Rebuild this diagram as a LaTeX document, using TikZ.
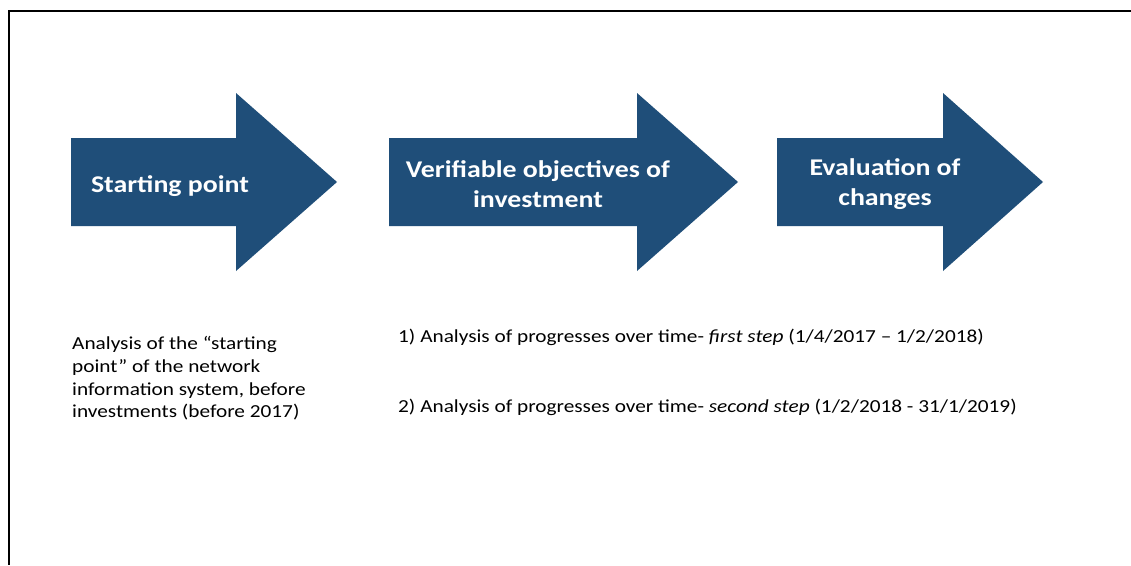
\documentclass[tikz,border=0pt]{standalone}
\usepackage{fontspec}
\setmainfont{Carlito}[FakeStretch=1.16]
\definecolor{arrowblue}{RGB}{31,78,121}
\tikzset{
  bigarrow/.style={fill=arrowblue, draw=none},
  arrowlabel/.style={text=white, font=\fontsize{24}{30}\selectfont\bfseries, align=center, inner sep=0pt},
  note/.style={text=black, font=\fontsize{18.35}{22.8}\selectfont, align=left, inner sep=0pt, anchor=north west},
}
\begin{document}
\begin{tikzpicture}[x=1pt,y=-1pt]
\useasboundingbox (0,0) rectangle (1131,565);
\fill[white] (0,0) rectangle (1131,565);
\coordinate (tl) at (9,11);
\coordinate (tr) at (1131,11);
\coordinate (bl) at (9,565);
\draw[line width=2pt] (tr) -- (tl) -- (bl);

\fill[bigarrow] (71,138) -- (236,138) -- (236,93) -- (337,182) -- (236,271) -- (236,226) -- (71,226) -- cycle;
\fill[bigarrow] (389,138) -- (637,138) -- (637,93) -- (738,182) -- (637,271) -- (637,226) -- (389,226) -- cycle;
\fill[bigarrow] (777,138) -- (943,138) -- (943,93) -- (1043,182) -- (943,271) -- (943,226) -- (777,226) -- cycle;

\node[arrowlabel] (a1) at (170,186) {Starting point};
\node[arrowlabel] (a2) at (538,184) {Verifiable objectives of\\investment};
\node[arrowlabel] (a3) at (885,184) {Evaluation of\\changes};

\node[note] (n1) at (72,336) {Analysis of the “starting\\point” of the network\\information system, before\\investments (before 2017)};
\node[note, anchor=west] (n2) at (398,337) {1) Analysis of progresses over time- \textit{first step} (1/4/2017 – 1/2/2018)};
\node[note, anchor=west] (n3) at (398,407) {2) Analysis of progresses over time- \textit{second step} (1/2/2018 - 31/1/2019)};
\end{tikzpicture}
\end{document}
